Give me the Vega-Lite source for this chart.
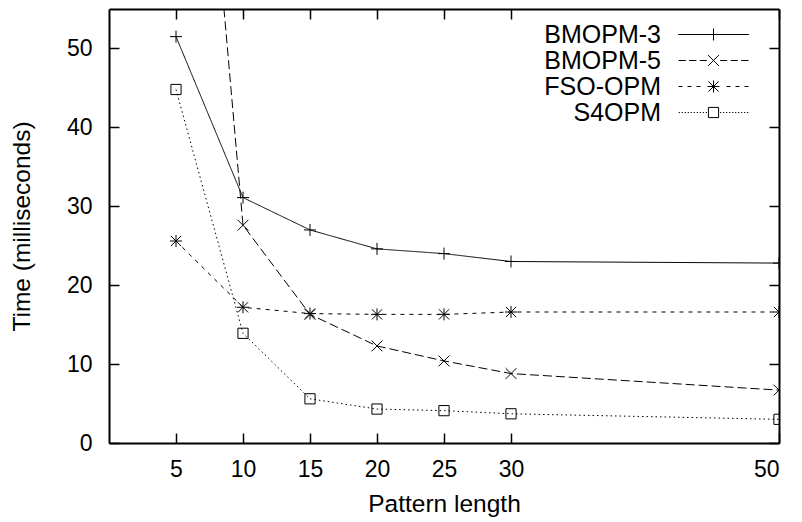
{
  "$schema": "https://vega.github.io/schema/vega-lite/v6.json",
  "autosize": {"type": "none"},
  "width": 670,
  "height": 434,
  "padding": {"left": 109, "top": 9, "right": 23, "bottom": 79},
  "background": "white",
  "config": {
    "view": {"stroke": null},
    "font": "Liberation Sans",
    "axis": {"grid": false, "domainColor": "black", "domainWidth": 2, "tickColor": "black", "tickWidth": 1.5, "labelColor": "black", "titleColor": "black", "labelFont": "Liberation Sans", "titleFont": "Liberation Sans", "labelFontSize": 23, "titleFontSize": 24.5, "titleFontWeight": "normal"}
  },
  "data": {"values": [
    {"series": "BMOPM-3", "len": 5, "ms": 51.5},
    {"series": "BMOPM-3", "len": 10, "ms": 31.1},
    {"series": "BMOPM-3", "len": 15, "ms": 27.0},
    {"series": "BMOPM-3", "len": 20, "ms": 24.6},
    {"series": "BMOPM-3", "len": 25, "ms": 24.0},
    {"series": "BMOPM-3", "len": 30, "ms": 23.0},
    {"series": "BMOPM-3", "len": 50, "ms": 22.8},
    {"series": "BMOPM-5", "len": 5, "ms": 124},
    {"series": "BMOPM-5", "len": 10, "ms": 27.6},
    {"series": "BMOPM-5", "len": 15, "ms": 16.3},
    {"series": "BMOPM-5", "len": 20, "ms": 12.3},
    {"series": "BMOPM-5", "len": 25, "ms": 10.4},
    {"series": "BMOPM-5", "len": 30, "ms": 8.8},
    {"series": "BMOPM-5", "len": 50, "ms": 6.7},
    {"series": "FSO-OPM", "len": 5, "ms": 25.6},
    {"series": "FSO-OPM", "len": 10, "ms": 17.2},
    {"series": "FSO-OPM", "len": 15, "ms": 16.4},
    {"series": "FSO-OPM", "len": 20, "ms": 16.3},
    {"series": "FSO-OPM", "len": 25, "ms": 16.3},
    {"series": "FSO-OPM", "len": 30, "ms": 16.6},
    {"series": "FSO-OPM", "len": 50, "ms": 16.6},
    {"series": "S4OPM", "len": 5, "ms": 44.8},
    {"series": "S4OPM", "len": 10, "ms": 13.9},
    {"series": "S4OPM", "len": 15, "ms": 5.6},
    {"series": "S4OPM", "len": 20, "ms": 4.3},
    {"series": "S4OPM", "len": 25, "ms": 4.1},
    {"series": "S4OPM", "len": 30, "ms": 3.7},
    {"series": "S4OPM", "len": 50, "ms": 3.0}
  ]},
  "layer": [
    {
      "mark": {"type": "line", "color": "black", "strokeWidth": 1, "clip": true},
      "encoding": {
        "x": {"field": "len", "type": "quantitative", "scale": {"domain": [0, 50], "nice": false, "zero": false},
              "axis": {"orient": "bottom", "values": [5, 10, 15, 20, 25, 30, 50], "title": "Pattern length", "tickSize": -10, "labelPadding": 25, "titleY": 61, "titleBaseline": "middle"}},
        "y": {"field": "ms", "type": "quantitative", "scale": {"domain": [0, 55], "nice": false},
              "axis": {"orient": "left", "values": [0, 10, 20, 30, 40, 50], "title": "Time (milliseconds)", "tickSize": -10, "labelPadding": 27, "titleX": -87, "titleBaseline": "middle"}},
        "strokeDash": {"field": "series", "type": "nominal",
          "scale": {"domain": ["S4OPM", "FSO-OPM", "BMOPM-5", "BMOPM-3"], "range": [[1.5, 3], [4, 5], [9, 4], [1, 0]]},
          "legend": null}
      }
    },
    {
      "mark": {"type": "point", "filled": false, "color": "black", "strokeWidth": 1, "size": 144, "opacity": 1, "clip": true},
      "encoding": {
        "x": {"field": "len", "type": "quantitative", "scale": {"domain": [0, 50], "nice": false, "zero": false},
              "axis": {"orient": "top", "values": [5, 10, 15, 20, 25, 30, 50], "labels": false, "title": null, "tickSize": -10}},
        "y": {"field": "ms", "type": "quantitative", "scale": {"domain": [0, 55], "nice": false},
              "axis": {"orient": "right", "values": [0, 10, 20, 30, 40, 50], "labels": false, "title": null, "tickSize": -10}},
        "shape": {"field": "series", "type": "nominal",
          "scale": {"domain": ["S4OPM", "FSO-OPM", "BMOPM-5", "BMOPM-3"],
                    "range": ["M-0.85,-0.85L0.85,-0.85L0.85,0.85L-0.85,0.85Z", "M-1,0L1,0M0,-1L0,1M-0.85,-0.85L0.85,0.85M0.85,-0.85L-0.85,0.85", "M-0.9,-0.9L0.9,0.9M0.9,-0.9L-0.9,0.9", "M-1,0L1,0M0,-1L0,1"]},
          "legend": null
        }
      }
    },
    {
      "mark": {"type": "point", "filled": false, "color": "black", "strokeWidth": 1, "size": 144, "opacity": 0},
      "encoding": {
        "x": {"field": "len", "type": "quantitative", "scale": {"domain": [0, 50], "nice": false, "zero": false}, "axis": null},
        "y": {"field": "ms", "type": "quantitative", "scale": {"domain": [0, 55], "nice": false}, "axis": null},
        "shape": {"field": "series", "type": "nominal",
          "scale": {"domain": ["BMOPM-3", "BMOPM-5", "FSO-OPM", "S4OPM"],
                    "range": [
                      "M-5.9,0L5.9,0M0,-1L0,1",
                      "M-5.83,0L-4.61,0M-4.07,0L-2.85,0M-2.28,0L-1.11,0M1.11,0L2.28,0M2.85,0L4.07,0M4.61,0L5.83,0M-0.9,-0.9L0.9,0.9M0.9,-0.9L-0.9,0.9",
                      "M-5.83,0L-5.17,0M-4.33,0L-3.67,0M-2.83,0L-2.17,0M2.17,0L2.83,0M3.67,0L4.33,0M5.17,0L5.83,0M-1,0L1,0M0,-1L0,1M-0.85,-0.85L0.85,0.85M0.85,-0.85L-0.85,0.85",
                      "M-5.8,0L-5.6,0M-5.3,0L-5.1,0M-4.8,0L-4.6,0M-4.3,0L-4.1,0M-3.8,0L-3.6,0M-3.3,0L-3.1,0M-2.8,0L-2.6,0M-2.3,0L-2.1,0M-1.8,0L-1.6,0M-1.3,0L-1.1,0M1.1,0L1.3,0M1.6,0L1.8,0M2.1,0L2.3,0M2.6,0L2.8,0M3.1,0L3.3,0M3.6,0L3.8,0M4.1,0L4.3,0M4.6,0L4.8,0M5.1,0L5.3,0M5.6,0L5.8,0M-0.85,-0.85L0.85,-0.85L0.85,0.85L-0.85,0.85Z"
                    ]},
          "legend": {
            "title": null, "orient": "none", "legendX": 592, "legendY": 13, "padding": 0,
            "symbolSize": 144, "symbolOpacity": 1, "symbolStrokeColor": "black", "symbolFillColor": "transparent", "symbolStrokeWidth": 1,
            "labelFontSize": 25, "labelFont": "Liberation Sans", "labelColor": "black",
            "labelAlign": "right", "labelOffset": -65, "rowPadding": -0.7
          }
        }
      }
    }
  ],
  "resolve": {"axis": {"x": "independent", "y": "independent"}, "scale": {"shape": "independent"}}
}
